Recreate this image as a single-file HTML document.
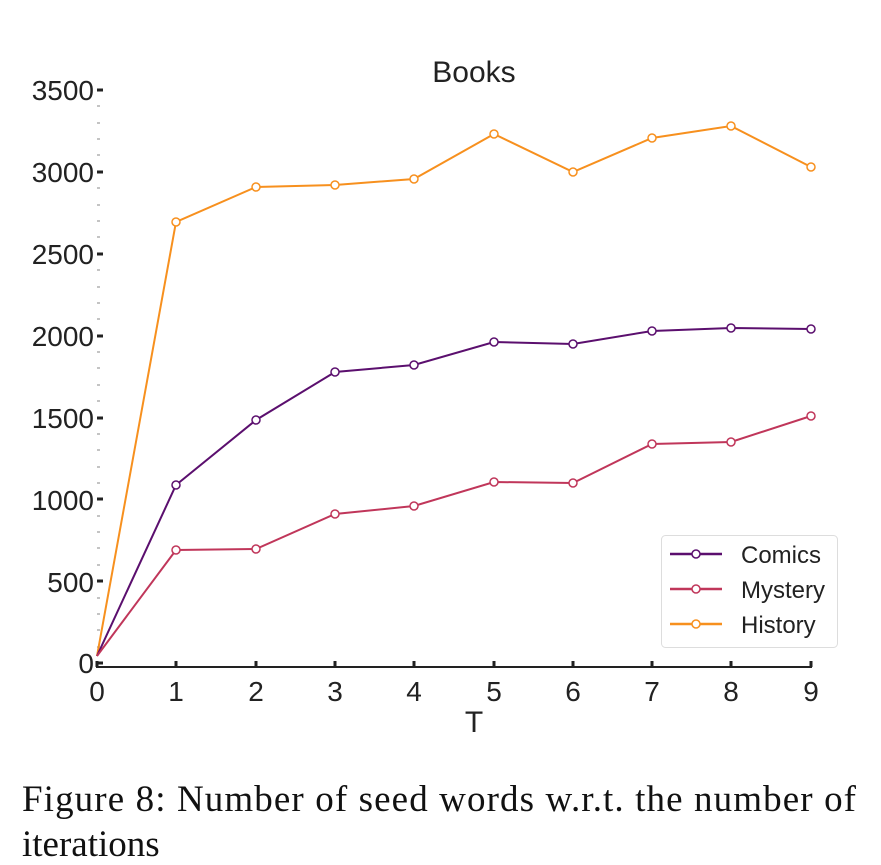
<!DOCTYPE html>
<html><head><meta charset="utf-8"><style>
html,body{margin:0;padding:0;background:#fff;}
svg{display:block;}
</style></head><body>
<svg width="881" height="865" viewBox="0 0 881 865" xmlns="http://www.w3.org/2000/svg">
<g font-family="Liberation Sans, sans-serif" fill="#222">
<text x="474" y="82" font-size="30" text-anchor="middle">Books</text>
<g font-size="28" text-anchor="end">
<text x="94" y="100">3500</text>
<text x="94" y="182">3000</text>
<text x="94" y="264">2500</text>
<text x="94" y="346">2000</text>
<text x="94" y="428">1500</text>
<text x="94" y="510">1000</text>
<text x="94" y="592">500</text>
<text x="94" y="673">0</text>
</g>
<g font-size="28" text-anchor="middle">
<text x="97" y="701">0</text><text x="176" y="701">1</text><text x="256" y="701">2</text>
<text x="335" y="701">3</text><text x="414" y="701">4</text><text x="494" y="701">5</text>
<text x="573" y="701">6</text><text x="652" y="701">7</text><text x="731" y="701">8</text>
<text x="811" y="701">9</text>
<text x="474" y="732" font-size="30">T</text>
</g>
</g>
<g stroke="#222" stroke-width="3">
<line x1="97" y1="90" x2="103" y2="90"/><line x1="97" y1="172" x2="103" y2="172"/>
<line x1="97" y1="254" x2="103" y2="254"/><line x1="97" y1="336" x2="103" y2="336"/>
<line x1="97" y1="418" x2="103" y2="418"/><line x1="97" y1="499" x2="103" y2="499"/>
<line x1="97" y1="581" x2="103" y2="581"/><line x1="97" y1="663" x2="103" y2="663"/>
</g>
<g stroke="#888" stroke-width="1">
<path d="M97 106h3M97 123h3M97 139h3M97 155h3M97 188h3M97 205h3M97 221h3M97 237h3M97 270h3M97 287h3M97 303h3M97 319h3M97 352h3M97 368h3M97 385h3M97 401h3M97 434h3M97 450h3M97 467h3M97 483h3M97 516h3M97 532h3M97 548h3M97 565h3M97 598h3M97 614h3M97 630h3M97 647h3"/>
</g>
<line x1="96" y1="667" x2="812" y2="667" stroke="#222" stroke-width="2"/>
<g stroke="#222" stroke-width="3">
<path d="M97 667v-6M176 667v-6M256 667v-6M335 667v-6M414 667v-6M494 667v-6M573 667v-6M652 667v-6M731 667v-6M811 667v-6"/>
</g>
<g fill="none" stroke-width="2">
<polyline stroke="#f7901e" points="97,656 176,222 256,187 335,185 414,179 494,134 573,172 652,138 731,126 811,167"/>
<polyline stroke="#5b0f6e" points="97,656 176,485 256,420 335,372 414,365 494,342 573,344 652,331 731,328 811,329"/>
<polyline stroke="#c0365a" points="97,656 176,550 256,549 335,514 414,506 494,482 573,483 652,444 731,442 811,416"/>
</g>
<g fill="#fff" stroke-width="1.5">
<g stroke="#f7901e"><circle cx="176" cy="222" r="4"/><circle cx="256" cy="187" r="4"/><circle cx="335" cy="185" r="4"/><circle cx="414" cy="179" r="4"/><circle cx="494" cy="134" r="4"/><circle cx="573" cy="172" r="4"/><circle cx="652" cy="138" r="4"/><circle cx="731" cy="126" r="4"/><circle cx="811" cy="167" r="4"/></g>
<g stroke="#5b0f6e"><circle cx="176" cy="485" r="4"/><circle cx="256" cy="420" r="4"/><circle cx="335" cy="372" r="4"/><circle cx="414" cy="365" r="4"/><circle cx="494" cy="342" r="4"/><circle cx="573" cy="344" r="4"/><circle cx="652" cy="331" r="4"/><circle cx="731" cy="328" r="4"/><circle cx="811" cy="329" r="4"/></g>
<g stroke="#c0365a"><circle cx="176" cy="550" r="4"/><circle cx="256" cy="549" r="4"/><circle cx="335" cy="514" r="4"/><circle cx="414" cy="506" r="4"/><circle cx="494" cy="482" r="4"/><circle cx="573" cy="483" r="4"/><circle cx="652" cy="444" r="4"/><circle cx="731" cy="442" r="4"/><circle cx="811" cy="416" r="4"/></g>
</g>
<rect x="661.5" y="535.5" width="176" height="112" rx="4" fill="#fff" stroke="#ddd" stroke-width="1"/>
<g stroke-width="2.5">
<line x1="670" y1="554" x2="722" y2="554" stroke="#5b0f6e"/>
<line x1="670" y1="589" x2="722" y2="589" stroke="#c0365a"/>
<line x1="670" y1="624" x2="722" y2="624" stroke="#f7901e"/>
</g>
<g fill="#fff" stroke-width="1.5">
<circle cx="696" cy="554" r="4" stroke="#5b0f6e"/>
<circle cx="696" cy="589" r="4" stroke="#c0365a"/>
<circle cx="696" cy="624" r="4" stroke="#f7901e"/>
</g>
<g font-family="Liberation Sans, sans-serif" font-size="24" fill="#222">
<text x="741" y="563">Comics</text>
<text x="741" y="598">Mystery</text>
<text x="741" y="633">History</text>
</g>
<g font-family="Liberation Serif, serif" font-size="37" fill="#111">
<text x="22" y="811" textLength="834" lengthAdjust="spacing">Figure 8: Number of seed words w.r.t. the number of</text>
<text x="22" y="856">iterations</text>
</g>
</svg>
</body></html>
